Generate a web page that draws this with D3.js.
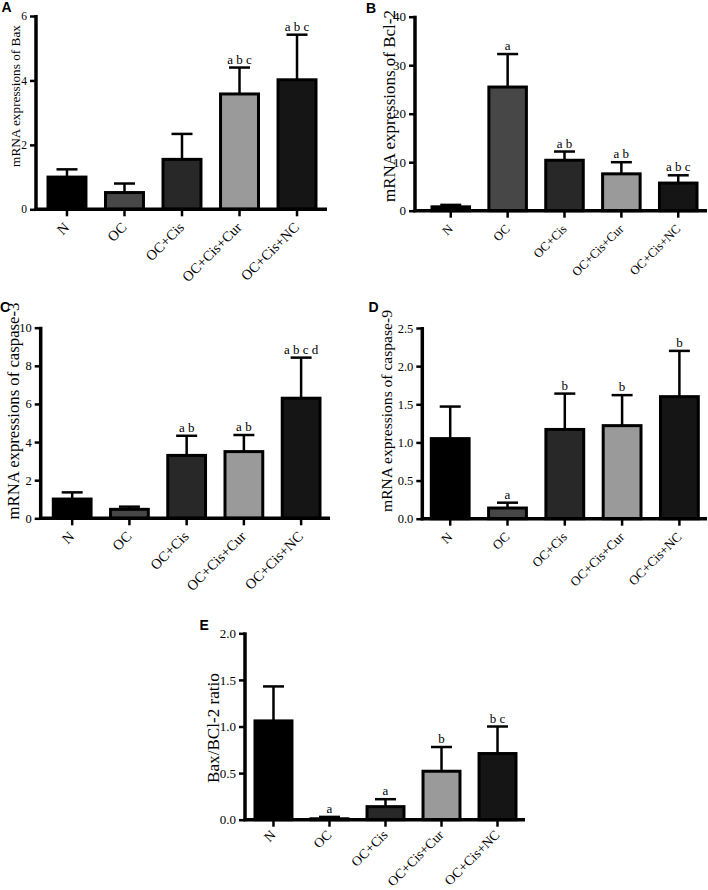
<!DOCTYPE html>
<html><head><meta charset="utf-8">
<script src="https://cdn.jsdelivr.net/npm/d3@7"></script>
<style>body{margin:0;background:#fff}svg{display:block}</style>
</head><body>
<svg id="chart" width="708" height="890"></svg>
<script>
const categories = ["N", "OC", "OC+Cis", "OC+Cis+Cur", "OC+Cis+NC"];
const barColors = ["#000000", "#474747", "#282828", "#9a9a9a", "#151515"];

const baxMean = [1.00, 0.52, 1.55, 3.58, 4.02];
const baxSD   = [0.24, 0.28, 0.79, 0.82, 1.40];
const baxSig  = ["", "", "", "a b c", "a b c"];
const baxTicks = [0, 2, 4, 6];

const bcl2Mean = [0.8, 25.5, 10.4, 7.6, 5.7];
const bcl2SD   = [0.4, 6.8, 1.8, 2.4, 1.6];
const bcl2Sig  = ["", "a", "a b", "a b", "a b c"];
const bcl2Ticks = [0, 10, 20, 30, 40];

const casp3Mean = [1.01, 0.47, 3.30, 3.50, 6.30];
const casp3SD   = [0.35, 0.14, 1.03, 0.87, 2.13];
const casp3Sig  = ["", "", "a b", "a b", "a b c d"];
const casp3Ticks = [0, 2, 4, 6, 8, 10];

const casp9Mean = [1.05, 0.14, 1.17, 1.22, 1.60];
const casp9SD   = [0.42, 0.07, 0.47, 0.40, 0.60];
const casp9Sig  = ["", "a", "b", "b", "b"];
const casp9Ticks = [0, 0.5, 1.0, 1.5, 2.0, 2.5];

const ratioMean = [1.06, 0.01, 0.14, 0.52, 0.71];
const ratioSD   = [0.37, 0.02, 0.08, 0.26, 0.29];
const ratioSig  = ["", "a", "a", "b", "b c"];
const ratioTicks = [0, 0.5, 1.0, 1.5, 2.0];

const svg = d3.select("#chart");
const serif = "'Liberation Serif','Times New Roman',serif";

// measure a text's length at a given size, to fit a target length
function fitSize(str, target) {
  const t = svg.append("text").attr("font-family", serif).attr("font-size", 100).text(str);
  const w = t.node().getComputedTextLength();
  t.remove();
  return 100 * target / w;
}

function panel(o) {
  const g = svg.append("g");
  const y = d3.scaleLinear().domain([0, o.ticks[o.ticks.length - 1]]).range([o.y0, o.yTop]);
  const x = d3.scaleBand().domain(categories).range([o.barL, o.barR]).paddingInner(0.34).paddingOuter(0);

  // bars
  g.selectAll("rect.bar").data(categories).join("rect")
    .attr("x", d => x(d)).attr("width", x.bandwidth())
    .attr("y", (d, i) => y(o.mean[i]))
    .attr("height", (d, i) => o.y0 - y(o.mean[i]))
    .attr("fill", (d, i) => barColors[i])
    .attr("stroke", "#000").attr("stroke-width", 3);

  // error bars (upper)
  const cap = 21;
  categories.forEach((c, i) => {
    const cx = x(c) + x.bandwidth() / 2;
    const top = y(o.mean[i] + o.sd[i]);
    g.append("line").attr("x1", cx).attr("x2", cx).attr("y1", y(o.mean[i])).attr("y2", top)
      .attr("stroke", "#000").attr("stroke-width", 2.5);
    g.append("line").attr("x1", cx - cap / 2).attr("x2", cx + cap / 2).attr("y1", top).attr("y2", top)
      .attr("stroke", "#000").attr("stroke-width", 2.5);
    if (o.sig[i]) {
      g.append("text").attr("x", cx).attr("y", top - 4)
        .attr("text-anchor", "middle").attr("font-family", serif)
        .attr("font-size", 13).text(o.sig[i]);
    }
  });

  // y axis
  const ya = d3.axisLeft(y).tickValues(o.ticks).tickSize(6).tickSizeOuter(0).tickPadding(3)
    .tickFormat(o.fmt ? d3.format(o.fmt) : d3.format("d"));
  const yg = g.append("g").attr("transform", `translate(${o.ax},0)`).call(ya);
  yg.select(".domain").attr("stroke-width", 3.5).attr("d", `M0,${o.y0 + 1.5}V${o.yTop - 1}`);
  yg.selectAll(".tick line").attr("stroke-width", 2.5);
  yg.selectAll(".tick text").attr("font-family", serif).attr("font-size", o.tickSize).attr("fill", "#000");

  // x axis line
  g.append("line").attr("x1", o.ax - 1.5).attr("x2", o.axR).attr("y1", o.y0).attr("y2", o.y0)
    .attr("stroke", "#000").attr("stroke-width", 3.5);
  // x ticks + rotated labels
  const xs = fitSize("OC+Cis+Cur", o.xLen);
  categories.forEach(c => {
    const cx = x(c) + x.bandwidth() / 2;
    g.append("line").attr("x1", cx).attr("x2", cx).attr("y1", o.y0).attr("y2", o.y0 + 7)
      .attr("stroke", "#000").attr("stroke-width", 2.5);
    g.append("text").attr("transform", `translate(${cx + 3},${o.y0 + o.xOff}) rotate(-45)`)
      .attr("text-anchor", "end").attr("font-family", serif)
      .attr("font-size", xs).text(c);
  });

  // y label
  g.append("text").attr("transform", `translate(${o.labX},${o.labY}) rotate(-90)`)
    .attr("text-anchor", "middle").attr("font-family", serif)
    .attr("font-size", fitSize(o.label, o.labLen)).text(o.label);

  // panel letter
  svg.append("text").attr("x", o.lx).attr("y", o.ly).attr("font-family", "'Liberation Sans',Arial,sans-serif")
    .attr("font-weight", "bold").attr("font-size", 14).text(o.letter);
}

panel({letter: "A", lx: 1.5, ly: 11.5, mean: baxMean, sd: baxSD, sig: baxSig, ticks: baxTicks,
  ax: 36, axR: 327, y0: 209.3, yTop: 16, barL: 48, barR: 316, tickSize: 11.5,
  xLen: 77, xOff: 19,
  label: "mRNA expressions of Bax", labX: 20, labY: 96, labLen: 142});
panel({letter: "B", lx: 366, ly: 12.5, mean: bcl2Mean, sd: bcl2SD, sig: bcl2Sig, ticks: bcl2Ticks,
  ax: 415, axR: 707, y0: 210.7, yTop: 16.7, barL: 432, barR: 697, tickSize: 13,
  xLen: 67, xOff: 19,
  label: "mRNA expressions of Bcl-2", labX: 395, labY: 106, labLen: 192});
panel({letter: "C", lx: 0, ly: 312, mean: casp3Mean, sd: casp3SD, sig: casp3Sig, ticks: casp3Ticks,
  ax: 40.7, axR: 330, y0: 518.3, yTop: 327.7, barL: 53.3, barR: 320, tickSize: 12.5,
  xLen: 77, xOff: 19,
  label: "mRNA expressions of caspase-3", labX: 19, labY: 411, labLen: 217});
panel({letter: "D", lx: 368.5, ly: 312, mean: casp9Mean, sd: casp9SD, sig: casp9Sig, ticks: casp9Ticks, fmt: ".1f",
  ax: 422.3, axR: 707, y0: 518.7, yTop: 328, barL: 431.3, barR: 698.3, tickSize: 12.5,
  xLen: 70, xOff: 19,
  label: "mRNA expressions of caspase-9", labX: 392, labY: 411, labLen: 202});
panel({letter: "E", lx: 199.5, ly: 630, mean: ratioMean, sd: ratioSD, sig: ratioSig, ticks: ratioTicks, fmt: ".1f",
  ax: 245, axR: 525, y0: 819.7, yTop: 633.3, barL: 255, barR: 516, tickSize: 13,
  xLen: 73, xOff: 16,
  label: "Bax/BCl-2 ratio", labX: 219, labY: 728, labLen: 110});
</script>
</body></html>
